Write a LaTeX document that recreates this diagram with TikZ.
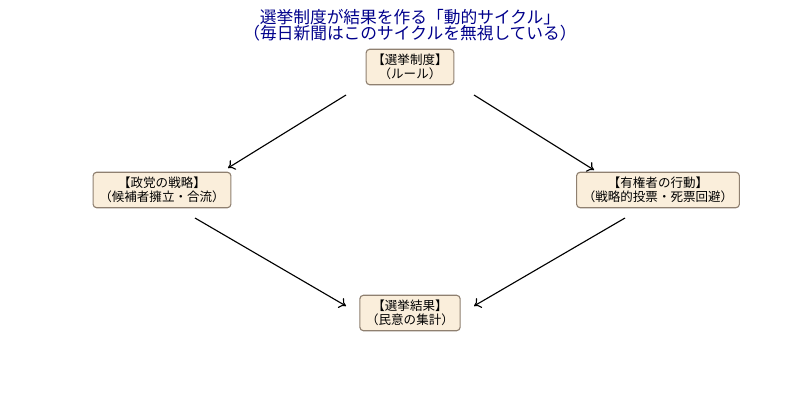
\documentclass[tikz,border=0pt]{standalone}
\usepackage{fontspec}
\newfontfamily\jpfont{Noto Sans CJK JP}
\usepackage{tikz}
\usetikzlibrary{shapes,arrows,arrows.meta}
\definecolor{boxfill}{HTML}{FAEEDB}
\definecolor{boxedge}{HTML}{8F8070}
\definecolor{titleblue}{HTML}{00008B}

\begin{document}
\begin{tikzpicture}[x=0.025cm,y=-0.025cm,
                   stage/.style={draw=boxedge,fill=boxfill,rounded corners=2.5pt,align=center,
                     font=\jpfont\fontsize{8.9}{9.6}\selectfont,inner xsep=4.5pt,inner ysep=3.6pt,thick},
                   flow/.style={-{To[length=1.6mm,width=2.8mm]},line width=0.8pt,black}]
\useasboundingbox (0,0) rectangle (800,400);
\node[text=titleblue,align=center,font=\jpfont\fontsize{11.9}{11.6}\selectfont] (title) at (410,25)
 {選挙制度が結果を作る「動的サイクル」\\（毎日新聞はこのサイクルを無視している）};
\node[stage] (rule) at (410,67) {【選挙制度】\\（ルール）};
\node[stage] (party) at (162,190) {【政党の戦略】\\（候補者擁立・合流）};
\node[stage] (voter) at (658,190) {【有権者の行動】\\（戦略的投票・死票回避）};
\node[stage] (result) at (410,313) {【選挙結果】\\（民意の集計）};
\coordinate (ruleL) at (346,95); \coordinate (partyT) at (228,168);
\coordinate (ruleR) at (474,95); \coordinate (voterT) at (594,170);
\coordinate (partyB) at (195,218); \coordinate (resultL) at (346,306);
\coordinate (voterB) at (625,218); \coordinate (resultR) at (474,306);
\draw[flow] (ruleL) -- (partyT);
\draw[flow] (ruleR) -- (voterT);
\draw[flow] (partyB) -- (resultL);
\draw[flow] (voterB) -- (resultR);
\end{tikzpicture}
\end{document}
